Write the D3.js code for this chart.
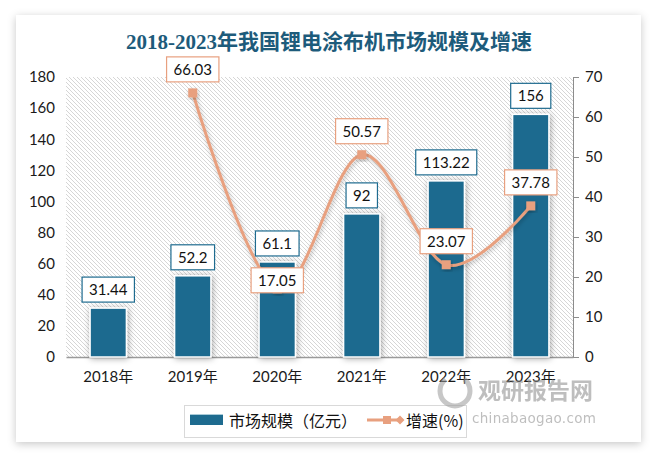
<!DOCTYPE html>
<html><head><meta charset="utf-8">
<script src="https://cdn.jsdelivr.net/npm/d3@7/dist/d3.min.js"></script>
<style>
html,body{margin:0;padding:0;background:#fff;}
svg{display:block;}
</style>
</head><body>
<svg id="c" width="659" height="458"></svg>
<script>
const years = ["2018年","2019年","2020年","2021年","2022年","2023年"];
const marketSize = [31.44, 52.2, 61.1, 92, 113.22, 156];
const growth = [null, 66.03, 17.05, 50.57, 23.07, 37.78];
const leftTicks = [0,20,40,60,80,100,120,140,160,180];
const rightTicks = [0,10,20,30,40,50,60,70];
const titleText = "2018-2023年我国锂电涂布机市场规模及增速";
const legendBar = "市场规模（亿元）";
const legendLine = "增速(%)";

const barColor = "#1e6b8f";
const lineColor = "#e8a07f";
const svg = d3.select("#c");
const defs = svg.append("defs");

const cardF = defs.append("filter").attr("id","cardShadow").attr("x","-10%").attr("y","-10%").attr("width","120%").attr("height","120%");
cardF.append("feDropShadow").attr("dx",0).attr("dy",2).attr("stdDeviation",4).attr("flood-color","#000").attr("flood-opacity",0.22);

const barF = defs.append("filter").attr("id","barShadow").attr("x","-40%").attr("y","-20%").attr("width","180%").attr("height","140%");
barF.append("feDropShadow").attr("dx",1).attr("dy",1).attr("stdDeviation",3).attr("flood-color","#000").attr("flood-opacity",0.35);

const lineF = defs.append("filter").attr("id","lineShadow").attr("x","-20%").attr("y","-20%").attr("width","140%").attr("height","140%");
lineF.append("feDropShadow").attr("dx",1).attr("dy",2).attr("stdDeviation",2).attr("flood-color","#000").attr("flood-opacity",0.25);

const pat = defs.append("pattern").attr("id","hatch").attr("patternUnits","userSpaceOnUse").attr("width",4).attr("height",4);
pat.append("rect").attr("width",4).attr("height",4).attr("fill","#fff");
pat.append("path").attr("d","M-1,-1 L5,5 M-1,3 L1,5 M3,-1 L5,1").attr("stroke","#d6d6d6").attr("stroke-width",1);

// card
svg.append("rect").attr("x",16).attr("y",15).attr("width",625).attr("height",427).attr("fill","#fff").attr("filter","url(#cardShadow)");

const L = 66, R = 573, T = 77, B = 357;
const x = d3.scaleBand().domain(years).range([L,R]).paddingInner(0.57).paddingOuter(0.285);
const yL = d3.scaleLinear().domain([0,180]).range([B,T]);
const yR = d3.scaleLinear().domain([0,70]).range([B,T]);

// title
svg.append("text").attr("x",329).attr("y",49).attr("text-anchor","middle")
  .attr("font-family","'Liberation Serif','Noto Sans CJK SC'").attr("font-size",21).attr("font-weight","bold")
  .attr("fill","#1d5b7b").text(titleText);

// plot background
svg.append("rect").attr("x",L).attr("y",T).attr("width",R-L).attr("height",B-T).attr("fill","url(#hatch)");

const axisFont = "'Lato','Open Sans',sans-serif";
// left axis
const gl = svg.append("g").attr("transform",`translate(${L},0)`)
  .call(d3.axisLeft(yL).tickValues(leftTicks).tickSize(0).tickPadding(11));
gl.select(".domain").remove();
gl.selectAll("text").attr("font-family",axisFont).attr("font-size",15).attr("fill","#1a1a1a");

// right axis
const gr = svg.append("g").attr("transform",`translate(${R},0)`)
  .call(d3.axisRight(yR).tickValues(rightTicks).tickSize(6).tickSizeOuter(0).tickPadding(6));
gr.select(".domain").attr("stroke","#8c8c8c");
gr.selectAll(".tick line").attr("stroke","#8c8c8c");
gr.selectAll("text").attr("font-family",axisFont).attr("font-size",15).attr("fill","#1a1a1a");

// bottom axis
const gb = svg.append("g").attr("transform",`translate(0,${B})`)
  .call(d3.axisBottom(x).tickSize(0).tickPadding(14));
gb.select(".domain").attr("stroke","#9a9a9a").attr("stroke-width",1.5);
gb.selectAll("text").attr("font-family","'Lato','Noto Sans CJK SC',sans-serif").attr("font-size",15).attr("fill","#1a1a1a");

// bars
svg.append("g").selectAll("rect").data(marketSize).join("rect")
  .attr("x",(d,i)=>x(years[i])).attr("width",x.bandwidth())
  .attr("y",d=>yL(d)).attr("height",d=>B-yL(d))
  .attr("fill",barColor).attr("stroke","#fff").attr("stroke-width",1.5)
  .attr("filter","url(#barShadow)");

// line
const pts = growth.map((g,i)=>({g,i})).filter(d=>d.g!==null);
const line = d3.line().x(d=>x(years[d.i])+x.bandwidth()/2).y(d=>yR(d.g)).curve(d3.curveCatmullRom.alpha(0));
svg.append("path").datum(pts).attr("d",line).attr("fill","none")
  .attr("stroke",lineColor).attr("stroke-width",3).attr("filter","url(#lineShadow)");
svg.append("g").selectAll("rect").data(pts).join("rect")
  .attr("x",d=>x(years[d.i])+x.bandwidth()/2-4.5).attr("y",d=>yR(d.g)-4.5)
  .attr("width",9).attr("height",9).attr("fill",lineColor).attr("filter","url(#lineShadow)");

// label helper
function labelBox(g, cx, bottom, txt, color){
  const t = g.append("text").attr("x",cx).attr("y",bottom-7).attr("text-anchor","middle")
    .attr("font-family",axisFont).attr("font-size",15).attr("fill","#111").text(txt);
  const w = t.node().getComputedTextLength();
  g.insert("rect","text").attr("x",cx-w/2-7).attr("y",bottom-25).attr("width",w+14).attr("height",25)
    .attr("fill","#fff").attr("stroke",color).attr("stroke-width",1.2);
}
const lg = svg.append("g");
marketSize.forEach((d,i)=>{
  const gg = lg.append("g");
  labelBox(gg, x(years[i])+x.bandwidth()/2, yL(d)-6, String(d), barColor);
});
pts.forEach(d=>{
  const gg = lg.append("g");
  const py = yR(d.g);
  const bottom = d.i===2 ? py+4 : py-11;
  labelBox(gg, x(years[d.i])+x.bandwidth()/2, bottom, d.g.toFixed(2), lineColor);
});

// legend
const leg = svg.append("g");
leg.append("rect").attr("x",184.5).attr("y",405.5).attr("width",282).attr("height",32).attr("fill","#fff").attr("stroke","#d9d9d9");
leg.append("rect").attr("x",190).attr("y",414).attr("width",33).attr("height",11).attr("fill",barColor);
leg.append("line").attr("x1",190).attr("x2",223).attr("y1",414.5).attr("y2",414.5).attr("stroke","#a9cbd8").attr("stroke-width",1);
leg.append("text").attr("x",229).attr("y",427).attr("font-family","'Noto Sans CJK SC'").attr("font-size",16).attr("fill","#111").text(legendBar);
leg.append("line").attr("x1",367).attr("x2",402).attr("y1",420).attr("y2",420).attr("stroke",lineColor).attr("stroke-width",3);
leg.append("rect").attr("x",383).attr("y",416).attr("width",8).attr("height",8).attr("fill",lineColor);
leg.append("path").attr("d","M400,415.5 L404.5,420 L400,424.5 L395.5,420 Z").attr("fill",lineColor);
leg.append("text").attr("x",406).attr("y",427).attr("font-family","'Noto Sans CJK SC'").attr("font-size",16).attr("fill","#111").text(legendLine);

// watermark
const wm = svg.append("g").attr("opacity",0.55);
wm.append("circle").attr("cx",455).attr("cy",391).attr("r",15).attr("fill","none").attr("stroke","#9a9a9a").attr("stroke-width",5).attr("stroke-dasharray","60 20");
wm.append("text").attr("x",478).attr("y",399).attr("font-family","'Noto Sans CJK SC'").attr("font-weight","bold").attr("font-size",23).attr("fill","#8a8a8a").text("观研报告网");
wm.append("text").attr("x",472).attr("y",423).attr("font-family","'DejaVu Sans'").attr("font-size",13.5).attr("fill","#8a8a8a").attr("letter-spacing",0.3).text("chinabaogao.com");
</script>
</body></html>
